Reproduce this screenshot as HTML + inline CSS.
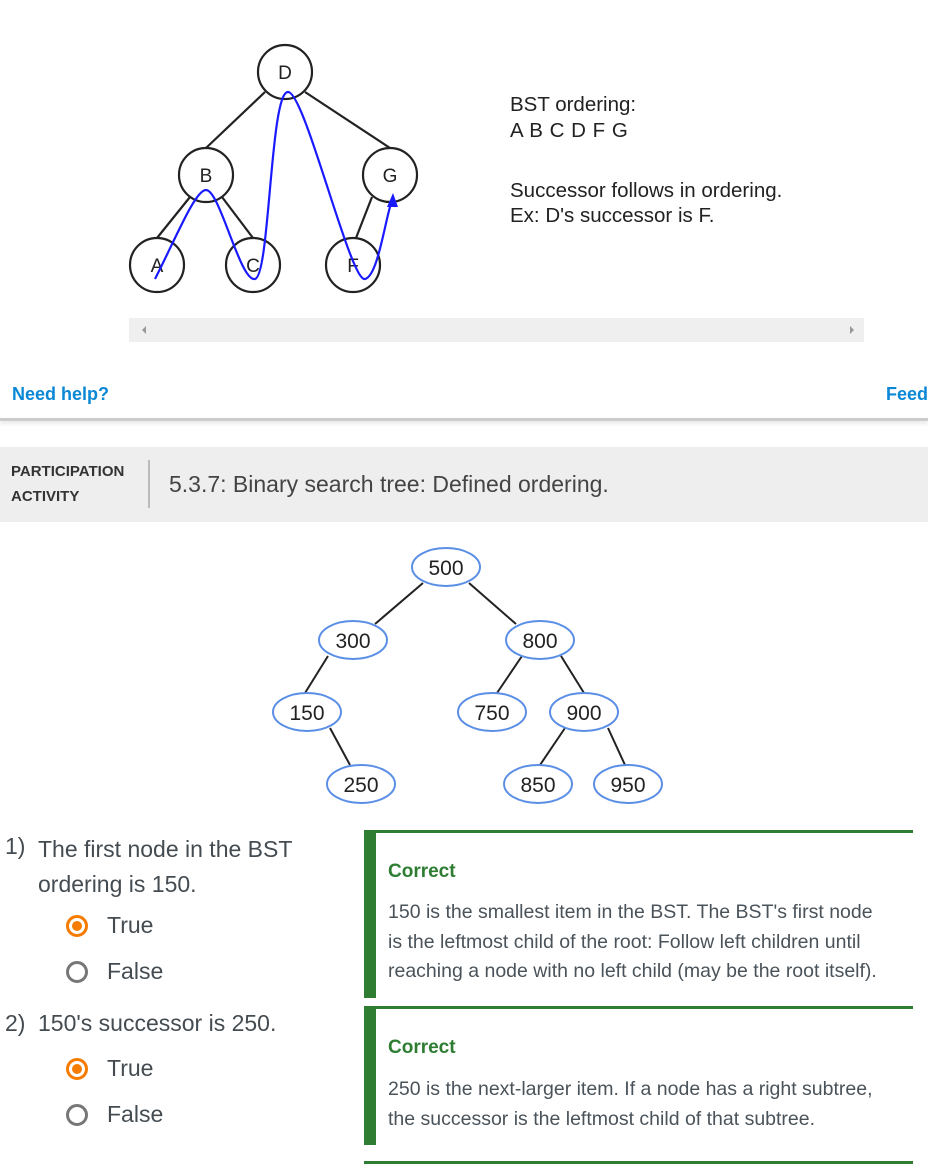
<!DOCTYPE html>
<html><head><meta charset="utf-8"><style>
body{margin:0;width:928px;height:1165px;position:relative;background:#fff;font-family:"Liberation Sans",sans-serif;overflow:hidden}
.a{position:absolute;white-space:nowrap}
.q{color:#444c52;font-size:23px}
.fb{color:#4a535a;font-size:19.5px;line-height:29.5px}
.c{color:#2e7d32;font-weight:bold;font-size:19px}
.rs{position:absolute;width:22px;height:22px;border-radius:50%;box-sizing:border-box}
.on{border:3px solid #f57c00}
.on::after{content:"";position:absolute;left:3px;top:3px;width:10px;height:10px;border-radius:50%;background:#f57c00}
.off{border:3px solid #777}
</style></head><body>
<svg class="a" style="left:0;top:0" width="928" height="560">
<g stroke="#222" stroke-width="2.2" fill="none">
<line x1="265" y1="92" x2="206" y2="148"/><line x1="305" y1="92" x2="390" y2="148"/>
<line x1="190" y1="197" x2="157" y2="238"/><line x1="222" y1="197" x2="253" y2="238"/>
<line x1="372" y1="197" x2="356" y2="238"/>
<circle cx="285" cy="72" r="27" fill="#fff"/><circle cx="206" cy="175" r="27" fill="#fff"/><circle cx="390" cy="175" r="27" fill="#fff"/>
<circle cx="157" cy="265" r="27" fill="#fff"/><circle cx="253" cy="265" r="27" fill="#fff"/><circle cx="353" cy="265" r="27" fill="#fff"/>
</g>
<g font-size="19" fill="#222" text-anchor="middle">
<text x="285" y="79">D</text><text x="206" y="182">B</text><text x="390" y="182">G</text>
<text x="157" y="272">A</text><text x="253" y="272">C</text><text x="353" y="272">F</text></g>
<path d="M155,279 C175,240 195,190 206,190 C220,190 240,282 255,279 C270,276 270,92 288,92 C305,92 350,282 365,279 C378,276 385,220 392,200" stroke="#1a1aff" stroke-width="2.2" fill="none"/>
<polygon points="393,193 387,207 398,207" fill="#1a1aff"/>
<text x="510" y="111" font-size="20.5" fill="#222">BST ordering:</text>
<text x="510" y="137" font-size="20.5" fill="#222" letter-spacing="0.5">A B C D F G</text>
<text x="510" y="197" font-size="20.5" fill="#222">Successor follows in ordering.</text>
<text x="510" y="222" font-size="20.5" fill="#222">Ex: D's successor is F.</text>
<rect x="129" y="318" width="735" height="24" fill="#efefef"/>
<polygon points="142,330 146,326 146,334" fill="#999"/><polygon points="854,330 850,326 850,334" fill="#999"/>
</svg>
<div class="a" style="left:12px;top:384px;color:#0a88d6;font-weight:bold;font-size:18px">Need help?</div>
<div class="a" style="left:886px;top:384px;color:#0a88d6;font-weight:bold;font-size:18px">Feed</div>
<div class="a" style="left:0;top:418px;width:928px;height:3px;background:#ccc;box-shadow:0 2px 4px #ddd"></div>
<div class="a" style="left:0;top:447px;width:928px;height:75px;background:#eee"></div>
<div class="a" style="left:11px;top:459px;font-weight:bold;font-size:15px;color:#333;line-height:25px">PARTICIPATION<br>ACTIVITY</div>
<div class="a" style="left:148px;top:460px;width:2px;height:48px;background:#bbb"></div>
<div class="a" style="left:169px;top:471px;font-size:23px;color:#444">5.3.7: Binary search tree: Defined ordering.</div>
<svg class="a" style="left:0;top:540px" width="928" height="270">
<g transform="translate(0,-540)">
<g stroke="#222" stroke-width="2">
<line x1="423" y1="583" x2="375" y2="624"/><line x1="469" y1="583" x2="516" y2="624"/>
<line x1="328" y1="656" x2="305" y2="693"/><line x1="522" y1="656" x2="497" y2="693"/><line x1="561" y1="656" x2="584" y2="693"/>
<line x1="330" y1="728" x2="350" y2="765"/><line x1="565" y1="728" x2="540" y2="765"/><line x1="608" y1="728" x2="625" y2="765"/>
</g>
<g stroke="#5b8fe6" stroke-width="2" fill="#fff">
<ellipse cx="446" cy="567" rx="34" ry="19"/><ellipse cx="353" cy="640" rx="34" ry="19"/><ellipse cx="540" cy="640" rx="34" ry="19"/>
<ellipse cx="307" cy="712" rx="34" ry="19"/><ellipse cx="492" cy="712" rx="34" ry="19"/><ellipse cx="584" cy="712" rx="34" ry="19"/>
<ellipse cx="361" cy="784" rx="34" ry="19"/><ellipse cx="538" cy="784" rx="34" ry="19"/><ellipse cx="628" cy="784" rx="34" ry="19"/>
</g>
<g font-size="21" fill="#222" text-anchor="middle">
<text x="446" y="575">500</text><text x="353" y="648">300</text><text x="540" y="648">800</text>
<text x="307" y="720">150</text><text x="492" y="720">750</text><text x="584" y="720">900</text>
<text x="361" y="792">250</text><text x="538" y="792">850</text><text x="628" y="792">950</text></g>
</g></svg>
<div class="a q" style="left:5px;top:833px">1)</div>
<div class="a q" style="left:38px;top:832px;line-height:35px">The first node in the BST<br>ordering is 150.</div>
<div class="rs on" style="left:66px;top:915px"></div><div class="a q" style="left:107px;top:912px">True</div>
<div class="rs off" style="left:66px;top:961px"></div><div class="a q" style="left:107px;top:958px">False</div>
<div class="a q" style="left:5px;top:1010px">2)</div>
<div class="a q" style="left:38px;top:1010px">150's successor is 250.</div>
<div class="rs on" style="left:66px;top:1058px"></div><div class="a q" style="left:107px;top:1055px">True</div>
<div class="rs off" style="left:66px;top:1104px"></div><div class="a q" style="left:107px;top:1101px">False</div>
<div class="a" style="left:364px;top:830px;width:549px;height:3px;background:#2e7d32"></div>
<div class="a" style="left:364px;top:830px;width:12px;height:168px;background:#2e7d32"></div>
<div class="a c" style="left:388px;top:861px">Correct</div>
<div class="a fb" style="left:388px;top:898px">150 is the smallest item in the BST. The BST's first node<br>is the leftmost child of the root: Follow left children until<br>reaching a node with no left child (may be the root itself).</div>
<div class="a" style="left:364px;top:1006px;width:549px;height:3px;background:#2e7d32"></div>
<div class="a" style="left:364px;top:1006px;width:12px;height:139px;background:#2e7d32"></div>
<div class="a c" style="left:388px;top:1037px">Correct</div>
<div class="a fb" style="left:388px;top:1075px">250 is the next-larger item. If a node has a right subtree,<br>the successor is the leftmost child of that subtree.</div>
<div class="a" style="left:364px;top:1161px;width:549px;height:3px;background:#2e7d32"></div>
</body></html>
